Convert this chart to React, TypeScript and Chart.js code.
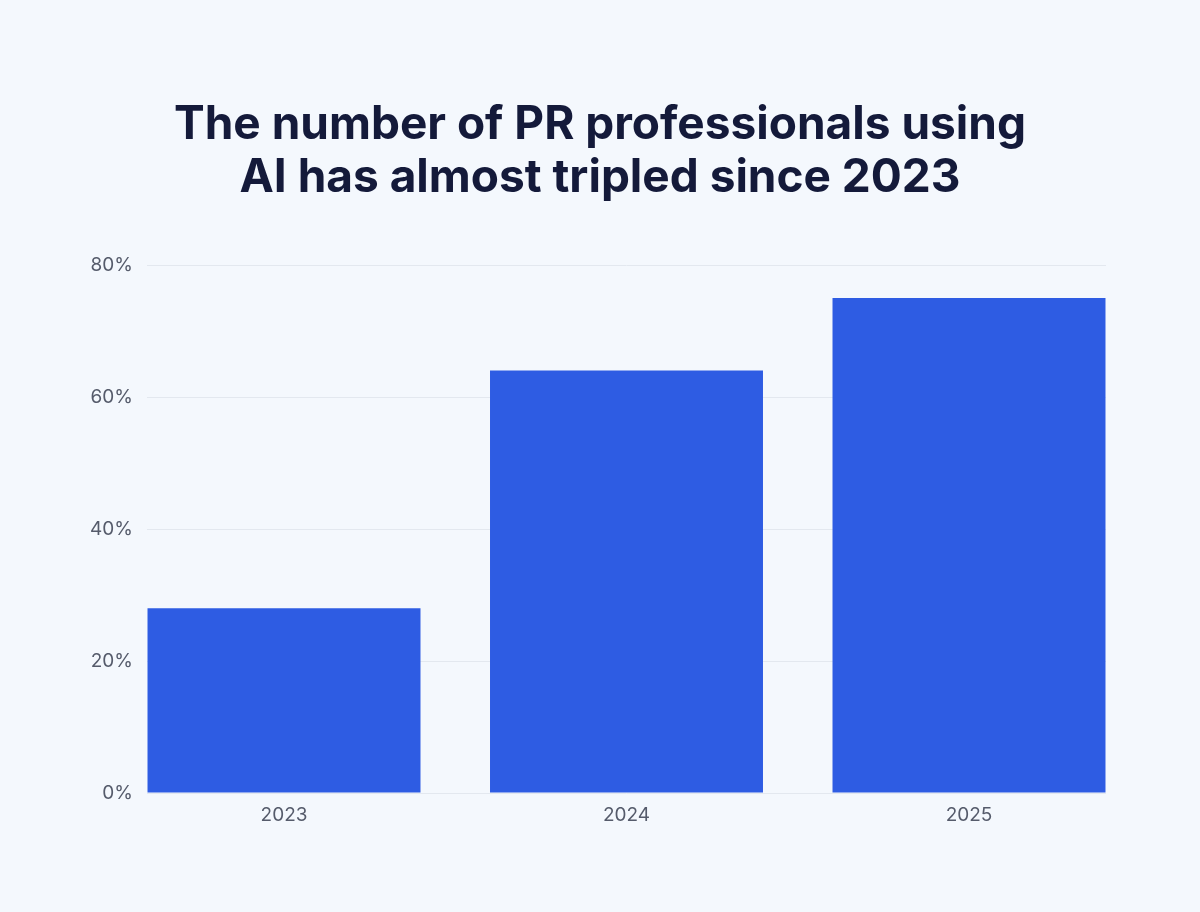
import React, { useRef, useEffect } from 'react';
import Chart from 'chart.js/auto';

const years = ['2023', '2024', '2025'];
const aiUsage = [28, 64, 75];
const yTicks = [0, 20, 40, 60, 80];
const titleLines = ['The number of PR professionals using', 'AI has almost tripled since 2023'];

// title centred on the whole canvas (layout padding is not symmetric)
const centredTitle = {
  id: 'centredTitle',
  afterDraw(chart: Chart) {
    const { ctx, width } = chart;
    ctx.save();
    ctx.font = 'bold 46px Inter';
    ctx.fillStyle = '#141A3A';
    ctx.textAlign = 'center';
    ctx.textBaseline = 'middle';
    titleLines.forEach((line, i) => {
      ctx.fillText(line, width / 2, 125.5 + i * 52.9);
    });
    ctx.restore();
  },
};

const App: React.FC = () => {
  const canvasRef = useRef<HTMLCanvasElement | null>(null);
  const chartRef = useRef<Chart | null>(null);

  useEffect(() => {
    document.body.style.margin = '0';
    const ctx = canvasRef.current?.getContext('2d');
    if (!ctx) return;
    if (chartRef.current) chartRef.current.destroy();

    chartRef.current = new Chart(ctx, {
      type: 'bar',
      data: {
        datasets: [
          {
            label: 'PR professionals using AI',
            data: aiUsage.map((v, i) => ({ x: i, y: v })),
            backgroundColor: '#2E5CE3',
            borderWidth: 0,
            barPercentage: 0.797,
            categoryPercentage: 1,
          },
        ],
      },
      plugins: [centredTitle],
      options: {
        animation: false,
        responsive: true,
        maintainAspectRatio: false,
        layout: { padding: { left: 40, right: 94, top: 265, bottom: 0 } },
        plugins: {
          legend: { display: false },
          tooltip: { enabled: false },
          title: { display: false },
        },
        scales: {
          x: {
            type: 'linear',
            offset: false,
            min: -0.4,
            max: 2.4,
            grid: { display: false, offset: false },
            border: { display: false },
            afterFit: (scale: any) => {
              scale.height = 119;
            },
            afterBuildTicks: (scale: any) => {
              scale.ticks = years.map((_, i) => ({ value: i }));
            },
            ticks: {
              padding: 3,
              color: '#555B6B',
              font: { family: 'Inter', size: 19 },
              callback: (v: any) => years[v] ?? '',
            },
          },
          y: {
            min: yTicks[0],
            max: yTicks[yTicks.length - 1],
            afterFit: (scale: any) => {
              scale.width = 107;
            },
            afterBuildTicks: (scale: any) => {
              scale.ticks = yTicks.map((v) => ({ value: v }));
            },
            grid: { color: '#E3E8EF', drawTicks: false, lineWidth: 1 },
            border: { display: false },
            ticks: {
              padding: 14,
              color: '#555B6B',
              font: { family: 'Inter', size: 19 },
              callback: (v: any) => v + '%',
            },
          },
        },
      } as any,
    });

    return () => {
      if (chartRef.current) {
        chartRef.current.destroy();
        chartRef.current = null;
      }
    };
  }, []);

  return (
    <div style={{ position: 'fixed', left: 0, top: 0, width: 1200, height: 912, background: '#F4F8FD' }}>
      <canvas ref={canvasRef} />
    </div>
  );
};

export default App;
